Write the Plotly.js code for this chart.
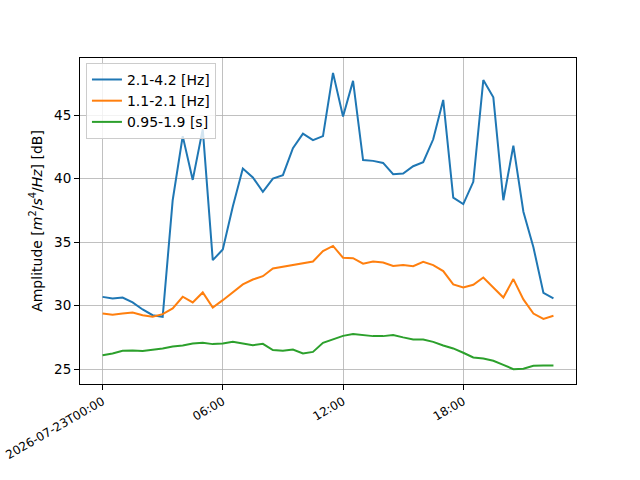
<!DOCTYPE html>
<html>
<head>
<meta charset="utf-8">
<script src="https://cdn.plot.ly/plotly-3.0.1.min.js"></script>
<style>html,body{margin:0;padding:0;background:#fff;}#chart{width:640px;height:480px;}</style>
</head>
<body>
<div id="chart"></div>
<script>
const times = [
 "2026-07-23 00:00","2026-07-23 00:30","2026-07-23 01:00","2026-07-23 01:30",
 "2026-07-23 02:00","2026-07-23 02:30","2026-07-23 03:00","2026-07-23 03:30",
 "2026-07-23 04:00","2026-07-23 04:30","2026-07-23 05:00","2026-07-23 05:30",
 "2026-07-23 06:00","2026-07-23 06:30","2026-07-23 07:00","2026-07-23 07:30",
 "2026-07-23 08:00","2026-07-23 08:30","2026-07-23 09:00","2026-07-23 09:30",
 "2026-07-23 10:00","2026-07-23 10:30","2026-07-23 11:00","2026-07-23 11:30",
 "2026-07-23 12:00","2026-07-23 12:30","2026-07-23 13:00","2026-07-23 13:30",
 "2026-07-23 14:00","2026-07-23 14:30","2026-07-23 15:00","2026-07-23 15:30",
 "2026-07-23 16:00","2026-07-23 16:30","2026-07-23 17:00","2026-07-23 17:30",
 "2026-07-23 18:00","2026-07-23 18:30","2026-07-23 19:00","2026-07-23 19:30",
 "2026-07-23 20:00","2026-07-23 20:30","2026-07-23 21:00","2026-07-23 21:30",
 "2026-07-23 22:00","2026-07-23 22:30"
];
const band1 = [30.69,30.57,30.64,30.25,29.7,29.25,29.12,38.3,43.35,39.9,43.9,33.58,
 34.42,37.8,40.8,40.1,38.96,40.0,40.27,42.4,43.55,43.03,43.35,48.33,
 44.9,47.7,41.46,41.4,41.24,40.35,40.4,40.98,41.3,43.1,46.2,38.5,
 38.0,39.75,47.76,46.4,38.3,42.6,37.4,34.6,31.0,30.57];
const band2 = [29.38,29.28,29.38,29.46,29.25,29.12,29.33,29.78,30.7,30.25,31.04,29.85,
 30.43,31.04,31.67,32.06,32.32,32.93,33.06,33.2,33.3,33.48,34.3,34.7,
 33.77,33.74,33.3,33.48,33.4,33.13,33.2,33.1,33.45,33.19,32.72,31.67,
 31.43,31.64,32.22,31.43,30.64,32.09,30.49,29.38,28.96,29.2];
const band3 = [26.1,26.23,26.44,26.47,26.42,26.52,26.63,26.79,26.86,27.02,27.07,26.97,
 27.02,27.15,27.02,26.89,26.99,26.5,26.44,26.55,26.23,26.36,27.07,27.34,
 27.62,27.76,27.7,27.6,27.6,27.68,27.5,27.34,27.34,27.15,26.86,26.63,
 26.29,25.92,25.84,25.66,25.34,25.0,25.03,25.26,25.29,25.29];
const names = ["2.1-4.2 [Hz]","1.1-2.1 [Hz]","0.95-1.9 [s]"];
const colors = ["#1f77b4","#ff7f0e","#2ca02c"];
const xTickVals = ["2026-07-23 00:00","2026-07-23 06:00","2026-07-23 12:00","2026-07-23 18:00"];
const xTickText = ["2026-07-23T00:00","06:00","12:00","18:00"];
const yTickVals = [25,30,35,40,45];

const series = [band1, band2, band3];
const traces = series.map((s,i)=>({
  x: times, y: s, type:'scatter', mode:'lines', name: names[i],
  line:{color:colors[i], width:2}
}));

const layout = {
  width:640, height:480,
  margin:{l:80, r:64, t:58, b:96},
  paper_bgcolor:'#fff', plot_bgcolor:'#fff',
  font:{family:'DejaVu Sans, sans-serif', size:13, color:'#000'},
  showlegend:true,
  legend:{x:0.012, y:0.985, xanchor:'left', yanchor:'top',
    bgcolor:'rgba(255,255,255,0.8)', bordercolor:'#cccccc', borderwidth:1,
    font:{size:14}, tracegroupgap:0, itemwidth:30},
  xaxis:{
    type:'date',
    range:["2026-07-22 22:52:30","2026-07-23 23:37:30"],
    tickmode:'array', tickvals:xTickVals, ticktext:xTickText,
    tickangle:-30,
    ticklabeloverflow:'allow',
    showgrid:true, gridcolor:'#b0b0b0', gridwidth:0.8,
    showline:true, linecolor:'#000', linewidth:1, mirror:true,
    ticks:'outside', ticklen:5, tickcolor:'#000',
    tickfont:{size:12},
    zeroline:false
  },
  yaxis:{
    range:[23.83,49.5],
    tickmode:'array', tickvals:yTickVals,
    showgrid:true, gridcolor:'#b0b0b0', gridwidth:0.8,
    showline:true, linecolor:'#000', linewidth:1, mirror:true,
    ticks:'outside', ticklen:5, tickcolor:'#000',
    tickfont:{size:13.5},
    zeroline:false,
    title:{text:'Amplitude [<i>m</i><sup>2</sup>/<i>s</i><sup>4</sup>/<i>Hz</i>] [dB]', font:{size:14}, standoff:8}
  }
};
Plotly.newPlot('chart', traces, layout, {staticPlot:true, displayModeBar:false});
</script>
</body>
</html>
